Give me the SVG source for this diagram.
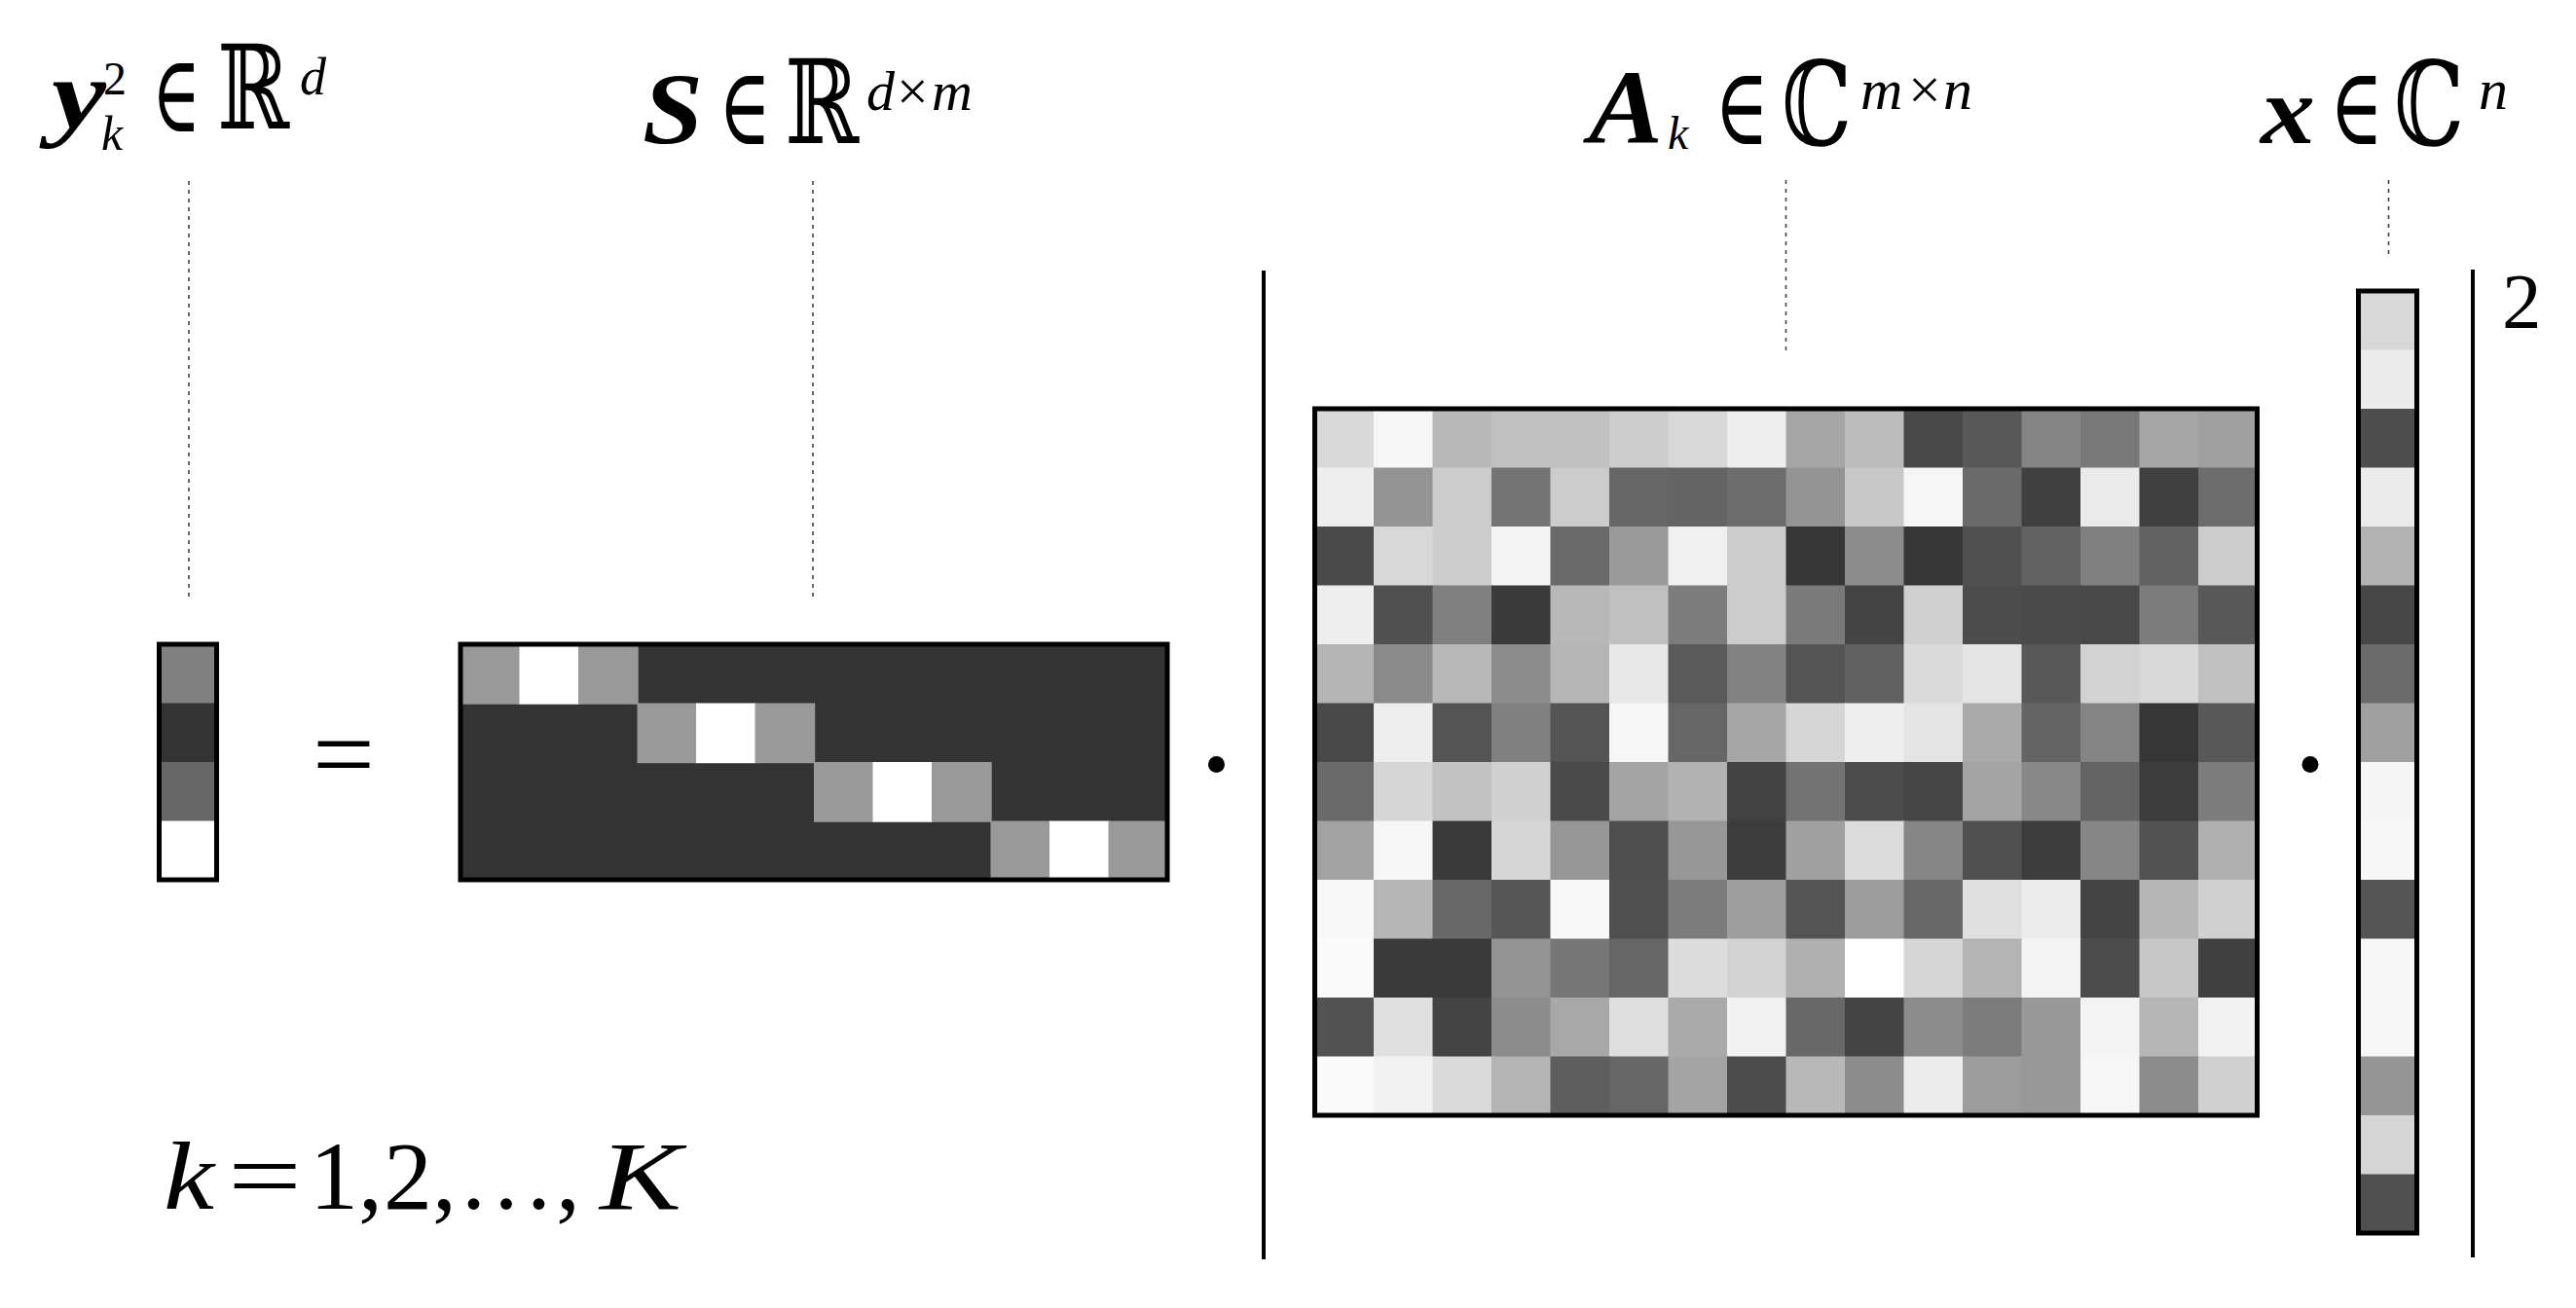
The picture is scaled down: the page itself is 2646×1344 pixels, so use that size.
<svg xmlns="http://www.w3.org/2000/svg" width="2646" height="1344" viewBox="0 0 2646 1344">
<style>
.frame{fill:none;stroke:#000;stroke-width:5}
.lead{fill:none;stroke:#444;stroke-width:1.6;stroke-dasharray:4 5}
.bar{stroke:#000;stroke-width:4}
.bi{font-weight:bold;font-style:italic}
.it{font-style:italic}
.cells rect{width:1.02px;height:1.02px}
</style>
<rect width="2646" height="1344" fill="#fff"/>

<g id="connectors">
<line class="lead" x1="194" y1="186" x2="194" y2="618"/>
<line class="lead" x1="835" y1="186" x2="835" y2="618"/>
<line class="lead" x1="1834.5" y1="185" x2="1834.5" y2="361"/>
<line class="lead" x1="2453.5" y1="185" x2="2453.5" y2="264"/>
</g>

<g id="node-y">
<g font-family="Liberation Serif, Times New Roman, serif" fill="#000">
<text class="bi" x="53" y="131" font-size="102" textLength="56" lengthAdjust="spacingAndGlyphs">y</text>
<text x="106" y="97" font-size="48">2</text>
<text class="it" x="104" y="154" font-size="50">k</text>
<text class="it" x="308" y="97" font-size="54">d</text>
</g>
<g font-family="DejaVu Serif, DejaVu Sans, serif" fill="#000">
<text transform="translate(156 135) scale(1 1.55)" font-size="72" textLength="50" lengthAdjust="spacingAndGlyphs">∈</text>
<text transform="translate(223 132) scale(1 1.25)" font-size="96" textLength="74" lengthAdjust="spacingAndGlyphs">ℝ</text>
</g>
<g class="cells" transform="translate(163.5 662) scale(59 60.5)">
<rect x="0" y="0" fill="#808080"/>
<rect x="0" y="1" fill="#333333"/>
<rect x="0" y="2" fill="#666666"/>
<rect x="0" y="3" fill="#ffffff"/>
</g>
<rect class="frame" x="163.5" y="662" width="59" height="242"/>
</g>

<g id="equals">
<text font-family="Liberation Serif, Times New Roman, serif" x="321" y="812" font-size="110" textLength="64" lengthAdjust="spacingAndGlyphs">=</text>
</g>

<g id="node-S">
<g font-family="Liberation Serif, Times New Roman, serif" fill="#000">
<text class="bi" x="660" y="147" font-size="104" textLength="62" lengthAdjust="spacingAndGlyphs">S</text>
<text class="it" x="890" y="113" font-size="58">d</text>
<text x="921" y="113" font-size="58">×</text>
<text class="it" x="957" y="113" font-size="58">m</text>
</g>
<g font-family="DejaVu Serif, DejaVu Sans, serif" fill="#000">
<text transform="translate(738 148) scale(1 1.55)" font-size="72" textLength="54" lengthAdjust="spacingAndGlyphs">∈</text>
<text transform="translate(806 147) scale(1 1.25)" font-size="96" textLength="76" lengthAdjust="spacingAndGlyphs">ℝ</text>
</g>
<g class="cells" transform="translate(473 662) scale(60.5)">
<rect x="0" y="0" fill="#333333" style="width:12px;height:4px"/>
<rect x="0" y="0" fill="#999999"/><rect x="1" y="0" fill="#ffffff"/><rect x="2" y="0" fill="#999999"/>
<rect x="3" y="1" fill="#999999"/><rect x="4" y="1" fill="#ffffff"/><rect x="5" y="1" fill="#999999"/>
<rect x="6" y="2" fill="#999999"/><rect x="7" y="2" fill="#ffffff"/><rect x="8" y="2" fill="#999999"/>
<rect x="9" y="3" fill="#999999"/><rect x="10" y="3" fill="#ffffff"/><rect x="11" y="3" fill="#999999"/>
</g>
<rect class="frame" x="473" y="662" width="726" height="242"/>
</g>

<g id="dot-1"><circle cx="1249.5" cy="785.5" r="8.5"/></g>

<g id="norm-bars">
<line class="bar" x1="1298" y1="278" x2="1298" y2="1294"/>
<line class="bar" x1="2540" y1="277" x2="2540" y2="1292"/>
<text font-family="Liberation Serif, Times New Roman, serif" x="2570" y="337" font-size="81">2</text>
</g>

<g id="node-A">
<g font-family="Liberation Serif, Times New Roman, serif" fill="#000">
<text class="bi" x="1632" y="147" font-size="108" textLength="76" lengthAdjust="spacingAndGlyphs">A</text>
<text class="it" x="1713" y="153" font-size="48">k</text>
<text class="it" x="1911" y="112" font-size="60">m</text>
<text x="1960" y="112" font-size="60">×</text>
<text class="it" x="1996" y="112" font-size="60">n</text>
</g>
<g font-family="DejaVu Serif, DejaVu Sans, serif" fill="#000">
<text transform="translate(1761 148) scale(1 1.55)" font-size="72" textLength="56" lengthAdjust="spacingAndGlyphs">∈</text>
<text transform="translate(1830 149) scale(1 1.25)" font-size="96" textLength="72" lengthAdjust="spacingAndGlyphs">ℂ</text>
</g>
<g class="cells" transform="translate(1350.5 420) scale(60.5)">
<rect x="0" y="0" fill="#d8d8d8"/><rect x="1" y="0" fill="#f6f6f6"/><rect x="2" y="0" fill="#b8b8b8"/><rect x="3" y="0" fill="#c0c0c0"/><rect x="4" y="0" fill="#c0c0c0"/><rect x="5" y="0" fill="#cccccc"/><rect x="6" y="0" fill="#d8d8d8"/><rect x="7" y="0" fill="#eeeeee"/><rect x="8" y="0" fill="#a6a6a6"/><rect x="9" y="0" fill="#bcbcbc"/><rect x="10" y="0" fill="#484848"/><rect x="11" y="0" fill="#585858"/><rect x="12" y="0" fill="#848484"/><rect x="13" y="0" fill="#787878"/><rect x="14" y="0" fill="#a6a6a6"/><rect x="15" y="0" fill="#a0a0a0"/>
<rect x="0" y="1" fill="#eeeeee"/><rect x="1" y="1" fill="#949494"/><rect x="2" y="1" fill="#cccccc"/><rect x="3" y="1" fill="#747474"/><rect x="4" y="1" fill="#cccccc"/><rect x="5" y="1" fill="#666666"/><rect x="6" y="1" fill="#646464"/><rect x="7" y="1" fill="#6c6c6c"/><rect x="8" y="1" fill="#949494"/><rect x="9" y="1" fill="#c8c8c8"/><rect x="10" y="1" fill="#f6f6f6"/><rect x="11" y="1" fill="#6a6a6a"/><rect x="12" y="1" fill="#404040"/><rect x="13" y="1" fill="#eaeaea"/><rect x="14" y="1" fill="#404040"/><rect x="15" y="1" fill="#6c6c6c"/>
<rect x="0" y="2" fill="#4a4a4a"/><rect x="1" y="2" fill="#d8d8d8"/><rect x="2" y="2" fill="#cccccc"/><rect x="3" y="2" fill="#f4f4f4"/><rect x="4" y="2" fill="#6a6a6a"/><rect x="5" y="2" fill="#9a9a9a"/><rect x="6" y="2" fill="#f0f0f0"/><rect x="7" y="2" fill="#cccccc"/><rect x="8" y="2" fill="#363636"/><rect x="9" y="2" fill="#8c8c8c"/><rect x="10" y="2" fill="#363636"/><rect x="11" y="2" fill="#505050"/><rect x="12" y="2" fill="#626262"/><rect x="13" y="2" fill="#808080"/><rect x="14" y="2" fill="#626262"/><rect x="15" y="2" fill="#cccccc"/>
<rect x="0" y="3" fill="#eeeeee"/><rect x="1" y="3" fill="#505050"/><rect x="2" y="3" fill="#808080"/><rect x="3" y="3" fill="#3a3a3a"/><rect x="4" y="3" fill="#b8b8b8"/><rect x="5" y="3" fill="#c0c0c0"/><rect x="6" y="3" fill="#7c7c7c"/><rect x="7" y="3" fill="#cccccc"/><rect x="8" y="3" fill="#7a7a7a"/><rect x="9" y="3" fill="#444444"/><rect x="10" y="3" fill="#d0d0d0"/><rect x="11" y="3" fill="#4c4c4c"/><rect x="12" y="3" fill="#4a4a4a"/><rect x="13" y="3" fill="#484848"/><rect x="14" y="3" fill="#7c7c7c"/><rect x="15" y="3" fill="#585858"/>
<rect x="0" y="4" fill="#b4b4b4"/><rect x="1" y="4" fill="#8a8a8a"/><rect x="2" y="4" fill="#b8b8b8"/><rect x="3" y="4" fill="#8c8c8c"/><rect x="4" y="4" fill="#b6b6b6"/><rect x="5" y="4" fill="#e8e8e8"/><rect x="6" y="4" fill="#5a5a5a"/><rect x="7" y="4" fill="#828282"/><rect x="8" y="4" fill="#545454"/><rect x="9" y="4" fill="#606060"/><rect x="10" y="4" fill="#dadada"/><rect x="11" y="4" fill="#e4e4e4"/><rect x="12" y="4" fill="#585858"/><rect x="13" y="4" fill="#d2d2d2"/><rect x="14" y="4" fill="#d8d8d8"/><rect x="15" y="4" fill="#c0c0c0"/>
<rect x="0" y="5" fill="#484848"/><rect x="1" y="5" fill="#eeeeee"/><rect x="2" y="5" fill="#545454"/><rect x="3" y="5" fill="#808080"/><rect x="4" y="5" fill="#545454"/><rect x="5" y="5" fill="#f6f6f6"/><rect x="6" y="5" fill="#666666"/><rect x="7" y="5" fill="#a6a6a6"/><rect x="8" y="5" fill="#d6d6d6"/><rect x="9" y="5" fill="#eeeeee"/><rect x="10" y="5" fill="#e4e4e4"/><rect x="11" y="5" fill="#aaaaaa"/><rect x="12" y="5" fill="#646464"/><rect x="13" y="5" fill="#848484"/><rect x="14" y="5" fill="#363636"/><rect x="15" y="5" fill="#585858"/>
<rect x="0" y="6" fill="#6a6a6a"/><rect x="1" y="6" fill="#d6d6d6"/><rect x="2" y="6" fill="#c2c2c2"/><rect x="3" y="6" fill="#d0d0d0"/><rect x="4" y="6" fill="#4a4a4a"/><rect x="5" y="6" fill="#a4a4a4"/><rect x="6" y="6" fill="#b2b2b2"/><rect x="7" y="6" fill="#424242"/><rect x="8" y="6" fill="#727272"/><rect x="9" y="6" fill="#4c4c4c"/><rect x="10" y="6" fill="#464646"/><rect x="11" y="6" fill="#a4a4a4"/><rect x="12" y="6" fill="#888888"/><rect x="13" y="6" fill="#646464"/><rect x="14" y="6" fill="#3c3c3c"/><rect x="15" y="6" fill="#7c7c7c"/>
<rect x="0" y="7" fill="#a2a2a2"/><rect x="1" y="7" fill="#f6f6f6"/><rect x="2" y="7" fill="#3a3a3a"/><rect x="3" y="7" fill="#d6d6d6"/><rect x="4" y="7" fill="#969696"/><rect x="5" y="7" fill="#4e4e4e"/><rect x="6" y="7" fill="#969696"/><rect x="7" y="7" fill="#3c3c3c"/><rect x="8" y="7" fill="#a0a0a0"/><rect x="9" y="7" fill="#dcdcdc"/><rect x="10" y="7" fill="#868686"/><rect x="11" y="7" fill="#505050"/><rect x="12" y="7" fill="#3c3c3c"/><rect x="13" y="7" fill="#868686"/><rect x="14" y="7" fill="#525252"/><rect x="15" y="7" fill="#b0b0b0"/>
<rect x="0" y="8" fill="#f8f8f8"/><rect x="1" y="8" fill="#b6b6b6"/><rect x="2" y="8" fill="#686868"/><rect x="3" y="8" fill="#565656"/><rect x="4" y="8" fill="#f8f8f8"/><rect x="5" y="8" fill="#505050"/><rect x="6" y="8" fill="#7c7c7c"/><rect x="7" y="8" fill="#9e9e9e"/><rect x="8" y="8" fill="#545454"/><rect x="9" y="8" fill="#9c9c9c"/><rect x="10" y="8" fill="#686868"/><rect x="11" y="8" fill="#e0e0e0"/><rect x="12" y="8" fill="#ececec"/><rect x="13" y="8" fill="#444444"/><rect x="14" y="8" fill="#b6b6b6"/><rect x="15" y="8" fill="#d0d0d0"/>
<rect x="0" y="9" fill="#fafafa"/><rect x="1" y="9" fill="#3a3a3a"/><rect x="2" y="9" fill="#3a3a3a"/><rect x="3" y="9" fill="#949494"/><rect x="4" y="9" fill="#767676"/><rect x="5" y="9" fill="#666666"/><rect x="6" y="9" fill="#dcdcdc"/><rect x="7" y="9" fill="#d2d2d2"/><rect x="8" y="9" fill="#b0b0b0"/><rect x="9" y="9" fill="#ffffff"/><rect x="10" y="9" fill="#d6d6d6"/><rect x="11" y="9" fill="#b4b4b4"/><rect x="12" y="9" fill="#f4f4f4"/><rect x="13" y="9" fill="#4c4c4c"/><rect x="14" y="9" fill="#c6c6c6"/><rect x="15" y="9" fill="#404040"/>
<rect x="0" y="10" fill="#525252"/><rect x="1" y="10" fill="#e0e0e0"/><rect x="2" y="10" fill="#444444"/><rect x="3" y="10" fill="#8c8c8c"/><rect x="4" y="10" fill="#a8a8a8"/><rect x="5" y="10" fill="#dedede"/><rect x="6" y="10" fill="#aaaaaa"/><rect x="7" y="10" fill="#f2f2f2"/><rect x="8" y="10" fill="#686868"/><rect x="9" y="10" fill="#444444"/><rect x="10" y="10" fill="#8c8c8c"/><rect x="11" y="10" fill="#7c7c7c"/><rect x="12" y="10" fill="#989898"/><rect x="13" y="10" fill="#f4f4f4"/><rect x="14" y="10" fill="#b6b6b6"/><rect x="15" y="10" fill="#f2f2f2"/>
<rect x="0" y="11" fill="#fafafa"/><rect x="1" y="11" fill="#f2f2f2"/><rect x="2" y="11" fill="#dadada"/><rect x="3" y="11" fill="#b4b4b4"/><rect x="4" y="11" fill="#5e5e5e"/><rect x="5" y="11" fill="#666666"/><rect x="6" y="11" fill="#a4a4a4"/><rect x="7" y="11" fill="#4c4c4c"/><rect x="8" y="11" fill="#b8b8b8"/><rect x="9" y="11" fill="#8c8c8c"/><rect x="10" y="11" fill="#ececec"/><rect x="11" y="11" fill="#9c9c9c"/><rect x="12" y="11" fill="#989898"/><rect x="13" y="11" fill="#f6f6f6"/><rect x="14" y="11" fill="#8c8c8c"/><rect x="15" y="11" fill="#d0d0d0"/>
</g>
<rect class="frame" x="1350.5" y="420" width="968" height="726"/>
</g>

<g id="dot-2"><circle cx="2373" cy="785.5" r="8.5"/></g>

<g id="node-x">
<g font-family="Liberation Serif, Times New Roman, serif" fill="#000">
<text class="bi" x="2322" y="147" font-size="100" textLength="56" lengthAdjust="spacingAndGlyphs">x</text>
<text class="it" x="2546" y="112" font-size="60">n</text>
</g>
<g font-family="DejaVu Serif, DejaVu Sans, serif" fill="#000">
<text transform="translate(2393 148) scale(1 1.55)" font-size="72" textLength="55" lengthAdjust="spacingAndGlyphs">∈</text>
<text transform="translate(2459 149) scale(1 1.25)" font-size="96" textLength="72" lengthAdjust="spacingAndGlyphs">ℂ</text>
</g>
<g class="cells" transform="translate(2422.5 299) scale(60 60.5)">
<rect x="0" y="0" fill="#d8d8d8"/><rect x="0" y="1" fill="#ebebeb"/><rect x="0" y="2" fill="#4d4d4d"/><rect x="0" y="3" fill="#ebebeb"/>
<rect x="0" y="4" fill="#b3b3b3"/><rect x="0" y="5" fill="#474747"/><rect x="0" y="6" fill="#6b6b6b"/><rect x="0" y="7" fill="#a0a0a0"/>
<rect x="0" y="8" fill="#f5f5f5"/><rect x="0" y="9" fill="#f7f7f7"/><rect x="0" y="10" fill="#545454"/><rect x="0" y="11" fill="#f7f7f7"/>
<rect x="0" y="12" fill="#f7f7f7"/><rect x="0" y="13" fill="#959595"/><rect x="0" y="14" fill="#d5d5d5"/><rect x="0" y="15" fill="#505050"/>
</g>
<rect class="frame" x="2422.5" y="299" width="60" height="968"/>
</g>

<g id="index-range">
<text font-family="Liberation Serif, Times New Roman, serif" fill="#000" y="1242" font-size="100"><tspan class="it" x="168" textLength="52" lengthAdjust="spacingAndGlyphs">k</tspan><tspan x="234" textLength="76" lengthAdjust="spacingAndGlyphs">=</tspan><tspan x="318">1,</tspan><tspan x="394">2,</tspan><tspan x="470" textLength="126" lengthAdjust="spacing">…,</tspan><tspan class="it" x="616" textLength="84" lengthAdjust="spacingAndGlyphs">K</tspan></text>
</g>
</svg>
